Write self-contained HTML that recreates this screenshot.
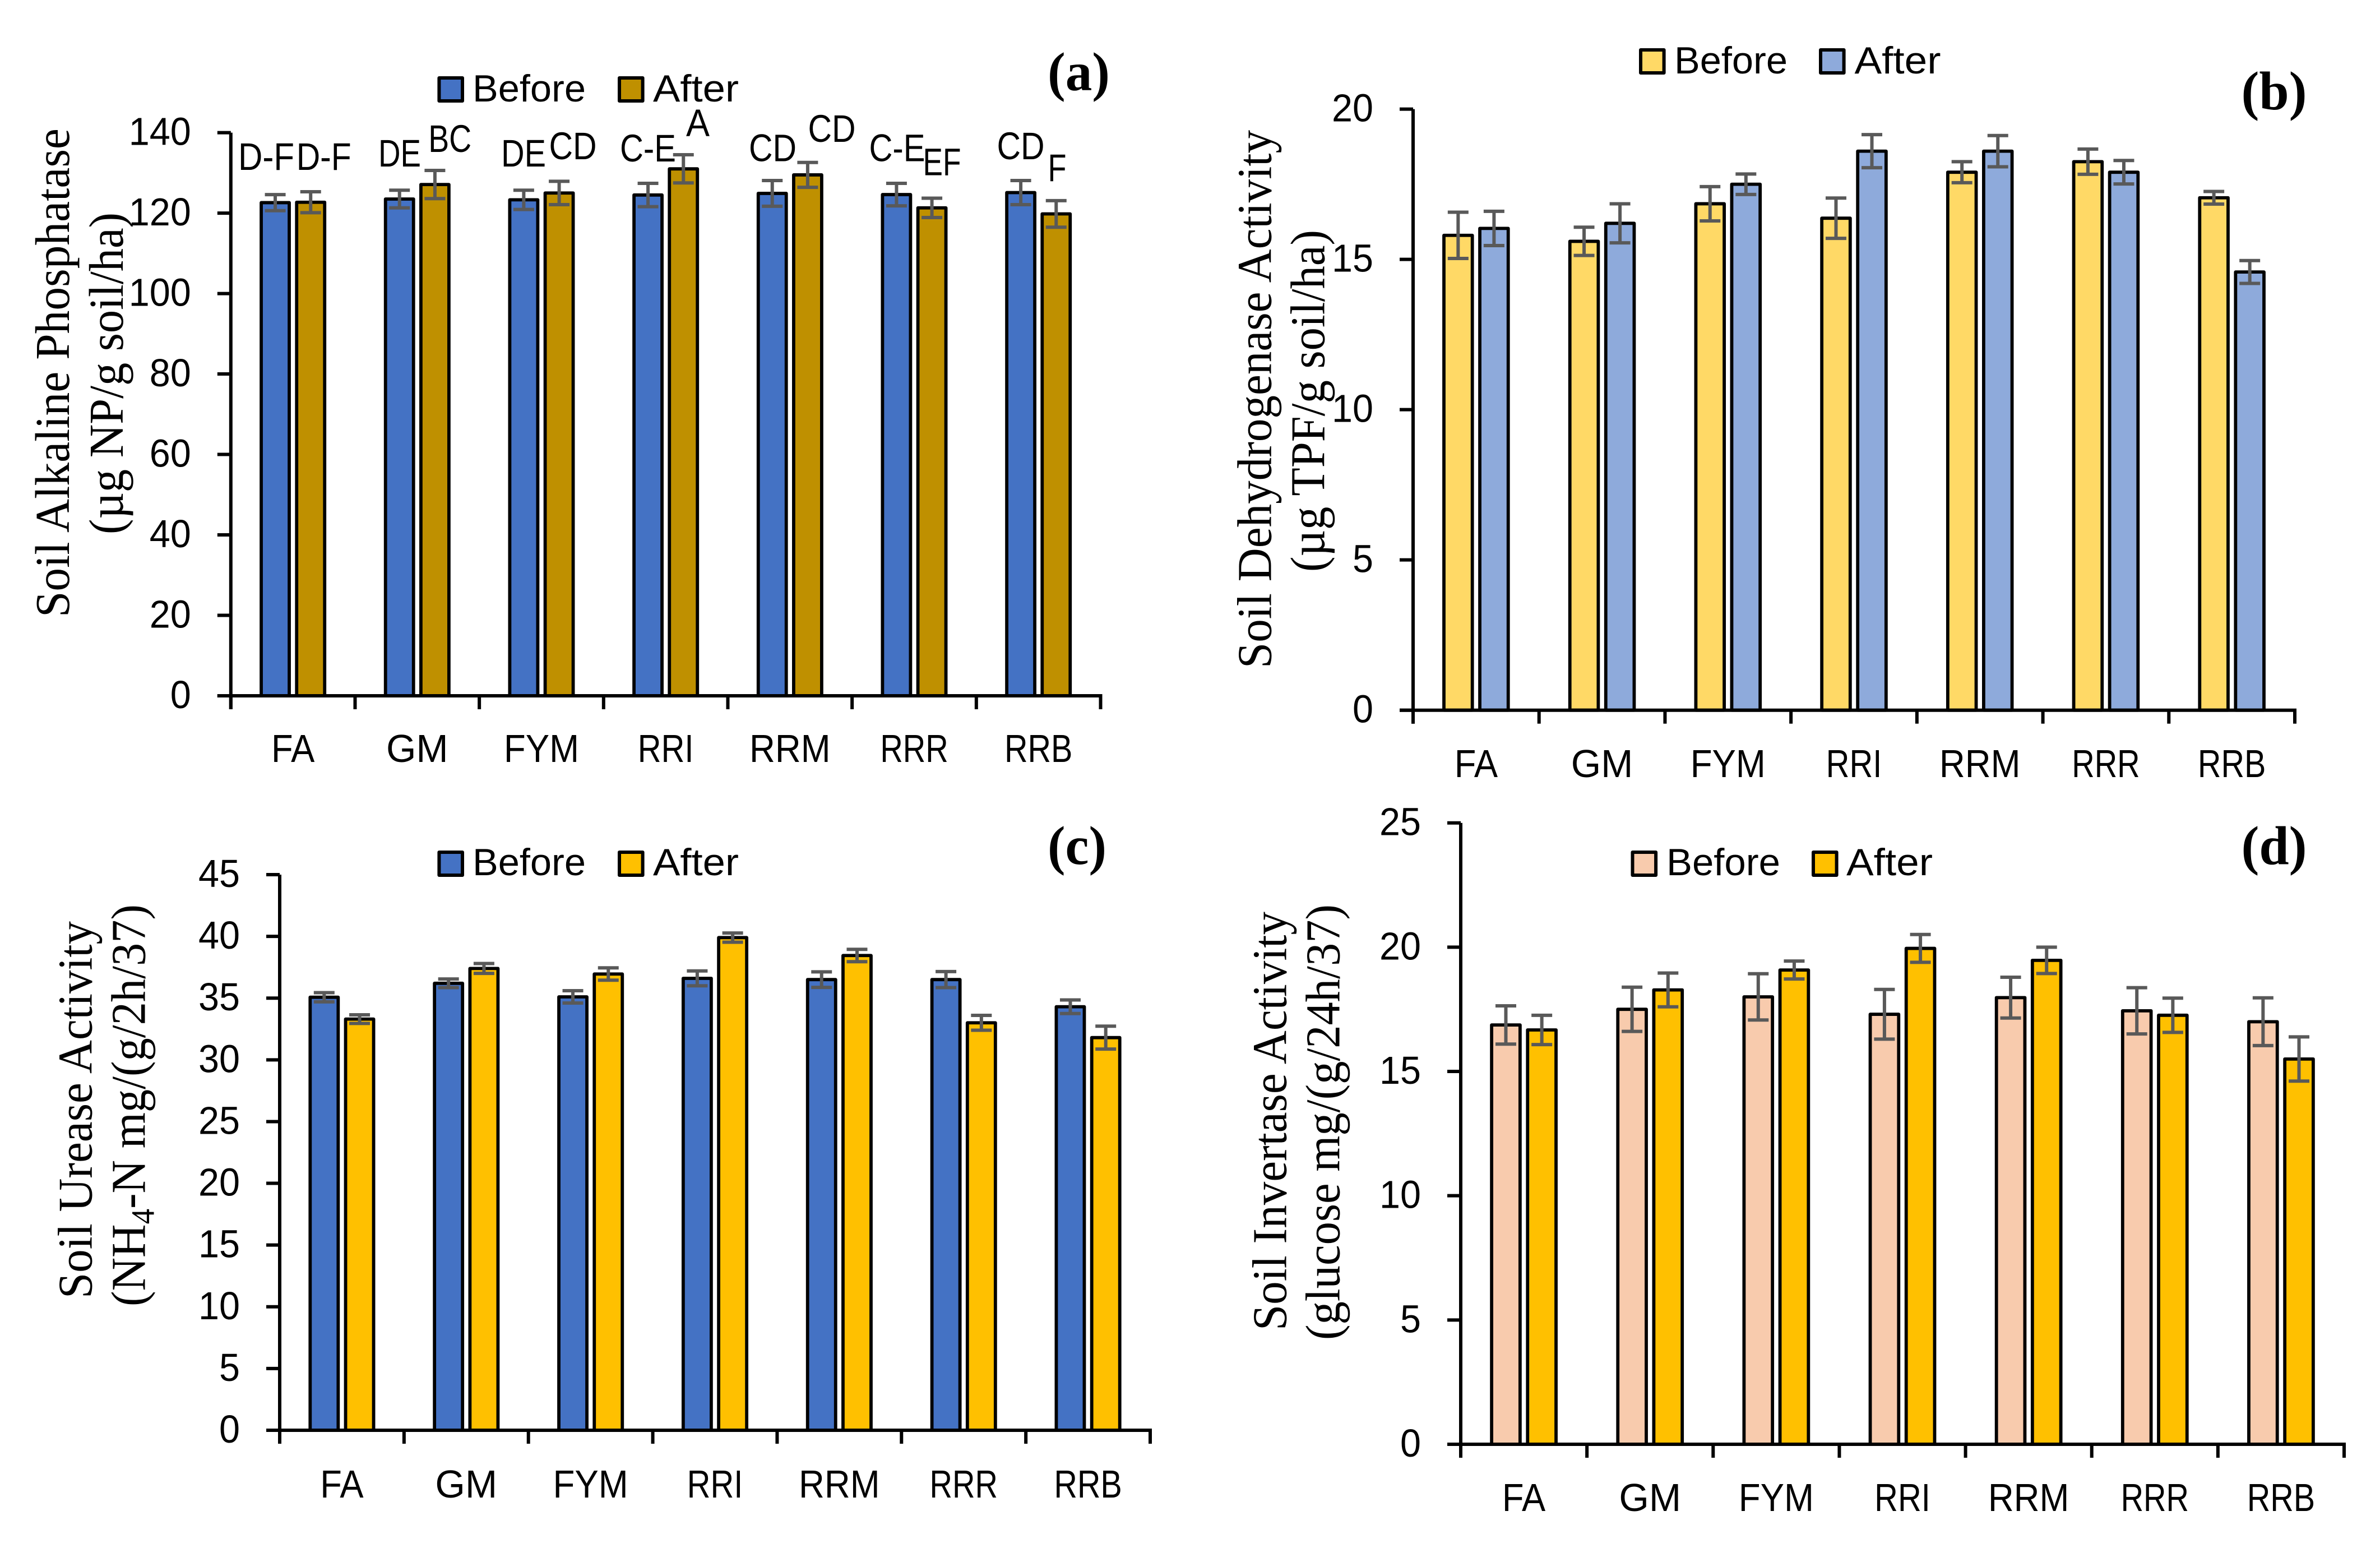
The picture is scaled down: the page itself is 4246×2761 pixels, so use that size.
<!DOCTYPE html>
<html lang="en">
<head>
<meta charset="utf-8">
<title>Soil enzyme activity before and after treatments</title>
<style>
html,body{margin:0;padding:0;background:#fff;}
svg{display:block;}
text{fill:#000;}
.sans{font-family:"Liberation Sans",sans-serif;}
.serif{font-family:"Liberation Serif",serif;}
.leg{font-family:"Liberation Sans",sans-serif;font-size:68px;}
.let{font-family:"Liberation Sans",sans-serif;font-size:69px;text-anchor:middle;}
.title{font-family:"Liberation Serif",serif;font-size:87px;}
.panel{font-family:"Liberation Serif",serif;font-size:97px;font-weight:bold;}
</style>
</head>
<body>
<svg id="figure" xmlns="http://www.w3.org/2000/svg" width="4246" height="2761" viewBox="0 0 4246 2761">
<rect width="4246" height="2761" fill="#fff"/>

<g id="panel-a">
  <text class="title" transform="translate(123,1101) rotate(-90)" textLength="872" lengthAdjust="spacingAndGlyphs">Soil Alkaline Phosphatase</text>
  <text class="title" transform="translate(219,953) rotate(-90)" textLength="574" lengthAdjust="spacingAndGlyphs">(µg NP/g soil/ha)</text>
  <text class="panel" x="1869" y="161" textLength="111" lengthAdjust="spacingAndGlyphs">(a)</text>
  <g>
    <rect x="783.4" y="139" width="41.6" height="41" fill="#4472C4" stroke="#000" stroke-width="6" stroke-linejoin="round"/>
    <text class="leg" x="843" y="181" textLength="202" lengthAdjust="spacingAndGlyphs">Before</text>
    <rect x="1105" y="139" width="41.6" height="41" fill="#BF9000" stroke="#000" stroke-width="6" stroke-linejoin="round"/>
    <text class="leg" x="1165" y="181" textLength="153" lengthAdjust="spacingAndGlyphs">After</text>
  </g>
  <g id="marks-a"></g>
  <g>
    <text class="let" x="475" y="303" textLength="100" lengthAdjust="spacingAndGlyphs">D-F</text>
    <text class="let" x="577.7" y="303" textLength="98" lengthAdjust="spacingAndGlyphs">D-F</text>
    <text class="let" x="713" y="297" textLength="76" lengthAdjust="spacingAndGlyphs">DE</text>
    <text class="let" x="802.7" y="271" textLength="77" lengthAdjust="spacingAndGlyphs">BC</text>
    <text class="let" x="934" y="297" textLength="80" lengthAdjust="spacingAndGlyphs">DE</text>
    <text class="let" x="1022" y="284" textLength="85" lengthAdjust="spacingAndGlyphs">CD</text>
    <text class="let" x="1156" y="288" textLength="100" lengthAdjust="spacingAndGlyphs">C-E</text>
    <text class="let" x="1245" y="243" textLength="42" lengthAdjust="spacingAndGlyphs">A</text>
    <text class="let" x="1378.5" y="287.5" textLength="85" lengthAdjust="spacingAndGlyphs">CD</text>
    <text class="let" x="1484" y="253" textLength="85" lengthAdjust="spacingAndGlyphs">CD</text>
    <text class="let" x="1600.5" y="287.5" textLength="100" lengthAdjust="spacingAndGlyphs">C-E</text>
    <text class="let" x="1680.5" y="312.5" textLength="68" lengthAdjust="spacingAndGlyphs">EF</text>
    <text class="let" x="1821" y="284" textLength="85" lengthAdjust="spacingAndGlyphs">CD</text>
    <text class="let" x="1886" y="323" textLength="33" lengthAdjust="spacingAndGlyphs">F</text>
  </g>
</g>

<g id="panel-b">
  <text class="title" transform="translate(2267.5,1192) rotate(-90)" textLength="960" lengthAdjust="spacingAndGlyphs">Soil Dehydrogenase Activity</text>
  <text class="title" transform="translate(2362.5,1020) rotate(-90)" textLength="610" lengthAdjust="spacingAndGlyphs">(µg TPF/g soil/ha)</text>
  <text class="panel" x="3998.5" y="195" textLength="117" lengthAdjust="spacingAndGlyphs">(b)</text>
  <g>
    <rect x="2927" y="89" width="41.6" height="41" fill="#FFD966" stroke="#000" stroke-width="6" stroke-linejoin="round"/>
    <text class="leg" x="2987" y="131" textLength="202" lengthAdjust="spacingAndGlyphs">Before</text>
    <rect x="3248" y="89" width="41.6" height="41" fill="#8EAADB" stroke="#000" stroke-width="6" stroke-linejoin="round"/>
    <text class="leg" x="3308.5" y="131" textLength="154" lengthAdjust="spacingAndGlyphs">After</text>
  </g>
  <g id="marks-b"></g>
</g>

<g id="panel-c">
  <text class="title" transform="translate(163.5,2316) rotate(-90)" textLength="673" lengthAdjust="spacingAndGlyphs">Soil Urease Activity</text>
  <text class="title" transform="translate(258.5,2330) rotate(-90)" textLength="717" lengthAdjust="spacingAndGlyphs">(NH<tspan font-size="58" dy="16">4</tspan><tspan dy="-16">-N mg/(g/2h/37)</tspan></text>
  <text class="panel" x="1869" y="1541" textLength="105" lengthAdjust="spacingAndGlyphs">(c)</text>
  <g>
    <rect x="783.4" y="1520" width="41.6" height="41" fill="#4472C4" stroke="#000" stroke-width="6" stroke-linejoin="round"/>
    <text class="leg" x="843" y="1561" textLength="202" lengthAdjust="spacingAndGlyphs">Before</text>
    <rect x="1105" y="1520" width="41.6" height="41" fill="#FFC000" stroke="#000" stroke-width="6" stroke-linejoin="round"/>
    <text class="leg" x="1165" y="1561" textLength="153" lengthAdjust="spacingAndGlyphs">After</text>
  </g>
  <g id="marks-c"></g>
</g>

<g id="panel-d">
  <text class="title" transform="translate(2294.5,2373) rotate(-90)" textLength="747" lengthAdjust="spacingAndGlyphs">Soil Invertase Activity</text>
  <text class="title" transform="translate(2389.5,2390) rotate(-90)" textLength="777" lengthAdjust="spacingAndGlyphs">(glucose mg/(g/24h/37)</text>
  <text class="panel" x="3998.5" y="1541" textLength="117" lengthAdjust="spacingAndGlyphs">(d)</text>
  <g>
    <rect x="2912.5" y="1520" width="41.6" height="41" fill="#F8CBAD" stroke="#000" stroke-width="6" stroke-linejoin="round"/>
    <text class="leg" x="2973" y="1561" textLength="203" lengthAdjust="spacingAndGlyphs">Before</text>
    <rect x="3235" y="1520" width="41.6" height="41" fill="#FFC000" stroke="#000" stroke-width="6" stroke-linejoin="round"/>
    <text class="leg" x="3294" y="1561" textLength="154" lengthAdjust="spacingAndGlyphs">After</text>
  </g>
  <g id="marks-d"></g>
</g>
</svg>

<script>
var categories = ["FA", "GM", "FYM", "RRI", "RRM", "RRR", "RRB"];

var ticksA = [0, 20, 40, 60, 80, 100, 120, 140];
var beforeA = [122.6, 123.5, 123.3, 124.5, 124.9, 124.6, 125.1];
var afterA = [122.7, 127.1, 125.0, 131.0, 129.5, 121.3, 119.8];
var beforeErrA = [2.0, 2.2, 2.4, 2.9, 3.2, 2.8, 3.0];
var afterErrA = [2.6, 3.5, 2.9, 3.5, 3.1, 2.4, 3.3];

var ticksB = [0, 5, 10, 15, 20];
var beforeB = [15.8, 15.6, 16.85, 16.37, 17.9, 18.25, 17.05];
var afterB = [16.03, 16.2, 17.5, 18.6, 18.6, 17.9, 14.58];
var beforeErrB = [0.77, 0.47, 0.57, 0.67, 0.35, 0.42, 0.21];
var afterErrB = [0.57, 0.65, 0.34, 0.55, 0.52, 0.39, 0.38];

var ticksC = [0, 5, 10, 15, 20, 25, 30, 35, 40, 45];
var beforeC = [35.07, 36.2, 35.1, 36.6, 36.5, 36.5, 34.3];
var afterC = [33.3, 37.4, 36.95, 39.9, 38.45, 33.0, 31.8];
var beforeErrC = [0.37, 0.35, 0.5, 0.6, 0.63, 0.65, 0.55];
var afterErrC = [0.35, 0.4, 0.5, 0.37, 0.5, 0.6, 0.93];

var ticksD = [0, 5, 10, 15, 20, 25];
var beforeD = [16.87, 17.5, 18.0, 17.3, 17.97, 17.44, 17.0];
var afterD = [16.67, 18.28, 19.08, 19.95, 19.47, 17.26, 15.5];
var beforeErrD = [0.77, 0.89, 0.93, 1.0, 0.82, 0.93, 0.96];
var afterErrD = [0.59, 0.68, 0.36, 0.56, 0.53, 0.69, 0.89];

var SVGNS = "http://www.w3.org/2000/svg";

/* Reference labels use a narrower humanist sans; these em widths size the Liberation glyphs to match. */
var GLYPH_EM = { F: 0.459, A: 0.579, G: 0.631, M: 0.855, Y: 0.487, R: 0.543, I: 0.252, B: 0.544 };
var FONT_PX = 70;

function labelWidth(text) {
  var w = 0;
  for (var i = 0; i < text.length; i++) {
    var c = text.charAt(i);
    w += (GLYPH_EM[c] !== undefined ? GLYPH_EM[c] : 0.507);
  }
  return w * 74.5;
}

function make(parent, tag, attrs) {
  var el = document.createElementNS(SVGNS, tag);
  for (var k in attrs) el.setAttribute(k, attrs[k]);
  parent.appendChild(el);
  return el;
}

function drawChart(cfg) {
  var root = document.getElementById(cfg.id);
  var maxV = cfg.ticks[cfg.ticks.length - 1];
  var yScale = function (v) { return cfg.base - (v / maxV) * (cfg.base - cfg.top); };
  var band = (cfg.right - cfg.left) / categories.length;
  var xCenter = function (i) { return cfg.left + band * (i + 0.5); };
  var barW = band * 0.2255, off = band * 0.1425, capW = 37;

  function series(values, errs, fill, sign, label) {
    values.forEach(function (v, i) {
      var cx = xCenter(i) + sign * off;
      var y = yScale(v);
      var bar = make(root, "rect", { x: cx - barW / 2, y: y, width: barW, height: cfg.base - y, fill: fill, stroke: "#000", "stroke-width": 5.8, "stroke-linejoin": "round" });
      
      
      bar.setAttribute('aria-label', label + ' ' + categories[i]);
    });
    values.forEach(function (v, i) {
      var cx = xCenter(i) + sign * off;
      var hi = yScale(v + errs[i]), lo = yScale(v - errs[i]);
      var err = make(root, "path", { d: "M" + (cx - capW / 2) + " " + hi + "H" + (cx + capW / 2) + "M" + cx + " " + hi + "V" + lo + "M" + (cx - capW / 2) + " " + lo + "H" + (cx + capW / 2), fill: "none", stroke: "#595959", "stroke-width": 6 });
      
      
    });
  }
  series(cfg.before, cfg.beforeErr, cfg.beforeFill, -1, "Before");
  series(cfg.after, cfg.afterErr, cfg.afterFill, 1, "After");

  var yAxis = make(root, "line", { x1: cfg.left, y1: cfg.top, x2: cfg.left, y2: cfg.base + 24, stroke: "#000", "stroke-width": 6 });
  
  

  var xAxis = make(root, "line", { x1: cfg.left - 24, y1: cfg.base, x2: cfg.right + 3, y2: cfg.base, stroke: "#000", "stroke-width": 6 });
  
  

  cfg.ticks.forEach(function (t) {
    var y = yScale(t);
    var tick = make(root, "line", { x1: cfg.left - 24, y1: y, x2: cfg.left, y2: y, stroke: "#000", "stroke-width": 6 });
    
    
    var s = String(t);
    var lab = make(root, "text", { x: cfg.left - 71, y: y + 22, "text-anchor": "end", "font-size": FONT_PX, "class": "sans", textLength: 37 * s.length, lengthAdjust: "spacingAndGlyphs" });
    
    
    lab.textContent = s;
  });

  for (var i = 0; i <= categories.length; i++) {
    var xt = cfg.left + band * i;
    var xtick = make(root, "line", { x1: xt, y1: cfg.base, x2: xt, y2: cfg.base + 24, stroke: "#000", "stroke-width": 6 });
    
    
  }

  categories.forEach(function (c, i) {
    var lab = make(root, "text", { x: xCenter(i), y: cfg.catY, "text-anchor": "middle", "font-size": FONT_PX, "class": "sans", textLength: labelWidth(c), lengthAdjust: "spacingAndGlyphs" });
    
    
    lab.textContent = c;
  });
}

drawChart({ id: "marks-a", left: 411.8, right: 1963.5, top: 236.6, base: 1241, catY: 1359, ticks: ticksA, before: beforeA, after: afterA, beforeErr: beforeErrA, afterErr: afterErrA, beforeFill: "#4472C4", afterFill: "#BF9000" });
drawChart({ id: "marks-b", left: 2521, right: 4094, top: 194.6, base: 1266.7, catY: 1386, ticks: ticksB, before: beforeB, after: afterB, beforeErr: beforeErrB, afterErr: afterErrB, beforeFill: "#FFD966", afterFill: "#8EAADB" });
drawChart({ id: "marks-c", left: 499, right: 2052, top: 1560, base: 2551, catY: 2671, ticks: ticksC, before: beforeC, after: afterC, beforeErr: beforeErrC, afterErr: afterErrC, beforeFill: "#4472C4", afterFill: "#FFC000" });
drawChart({ id: "marks-d", left: 2606, right: 4182, top: 1467.7, base: 2576, catY: 2695, ticks: ticksD, before: beforeD, after: afterD, beforeErr: beforeErrD, afterErr: afterErrD, beforeFill: "#F8CBAD", afterFill: "#FFC000" });
</script>
</body>
</html>
